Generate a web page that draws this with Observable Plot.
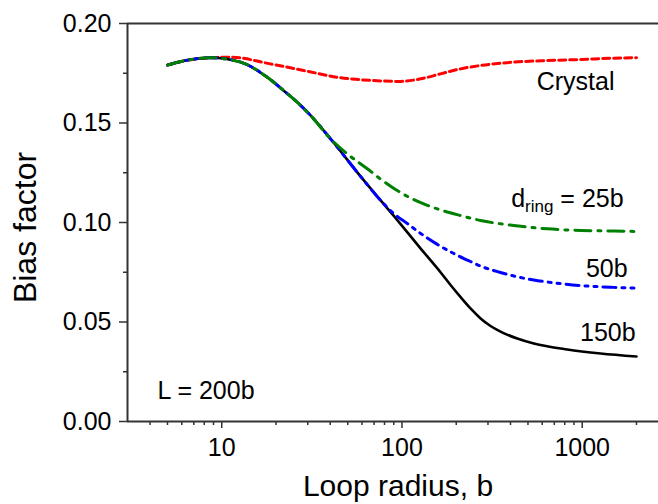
<!DOCTYPE html>
<html><head><meta charset="utf-8">
<script src="https://cdn.jsdelivr.net/npm/d3@7"></script>
<script src="https://cdn.jsdelivr.net/npm/@observablehq/plot@0.6"></script>
<style>body{margin:0;background:#fff;} #chart svg{display:block;}</style>
</head><body><div id="chart"></div>
<script>
// Loop radius (b) and bias factor per series
const crystalX = [5, 6.3, 8.66, 11.2, 18.6, 28.5, 43.7, 66.9, 98.2, 126.9, 163.7, 211, 273, 418, 640, 980, 1499, 2000];
const crystalY = [0.1791, 0.1814, 0.1828, 0.1831, 0.1797, 0.1764, 0.173, 0.1714, 0.1709, 0.1722, 0.1747, 0.1772, 0.1789, 0.1806, 0.1814, 0.1819, 0.1826, 0.1828];

const ring25X = [5, 6.3, 8.66, 12.7, 17.9, 22.1, 26.2, 31.1, 40.1, 49.7, 64.2, 76.1, 92.1, 111.6, 135.1, 163.7, 211, 273, 418, 640, 980, 1499, 2000];
const ring25Y = [0.1791, 0.1814, 0.1828, 0.1806, 0.173, 0.1662, 0.1605, 0.1538, 0.1421, 0.1345, 0.127, 0.1218, 0.1166, 0.1123, 0.109, 0.1063, 0.1035, 0.101, 0.0985, 0.0968, 0.096, 0.0957, 0.0955];

const ring50X = [5, 6.3, 8.66, 12.7, 17.9, 22.1, 26.2, 31.1, 40.1, 58.9, 76.1, 90.1, 107, 126.9, 157.1, 194.1, 240, 273, 352, 418, 539, 640, 980, 1499, 2000];
const ring50Y = [0.1791, 0.1814, 0.1828, 0.1806, 0.173, 0.1662, 0.1605, 0.1538, 0.1421, 0.1232, 0.1111, 0.1045, 0.0995, 0.0945, 0.089, 0.0844, 0.0804, 0.0781, 0.0749, 0.0731, 0.0711, 0.0701, 0.0683, 0.0674, 0.067];

const ring150X = [5, 6.3, 8.66, 12.7, 17.9, 22.1, 26.2, 31.1, 40.1, 58.9, 90.1, 127, 164, 186, 211, 240, 273, 310, 352, 436, 539, 826, 1265, 2000];
const ring150Y = [0.1791, 0.1814, 0.1828, 0.1806, 0.173, 0.1662, 0.1605, 0.1538, 0.1421, 0.1232, 0.1033, 0.0869, 0.0749, 0.0686, 0.0626, 0.0568, 0.0518, 0.048, 0.0452, 0.0417, 0.0392, 0.0362, 0.0342, 0.0327];

const xMajorTicks = [10, 100, 1000];
const xMinorTicks = [4, 5, 6, 7, 8, 9, 20, 30, 40, 50, 60, 70, 80, 90, 200, 300, 400, 500, 600, 700, 800, 900, 2000];
const yMajorTicks = [0, 0.05, 0.10, 0.15, 0.20];
const yMinorTicks = [0.025, 0.075, 0.125, 0.175];

const labelText = ["Crystal", "dring = 25b", "50b", "150b", "L = 200b"];
const labelX = [1510, 1697, 1786, 1978, 4.4];
const labelY = [0.1668, 0.1077, 0.0725, 0.0407, 0.0111];
const labelAnchor = ["end", "end", "end", "end", "start"];

const toRows = (xs, ys) => xs.map((x, i) => ({x, y: ys[i]}));
const labels = labelText.map((t, i) => ({t, x: labelX[i], y: labelY[i], a: labelAnchor[i]}));

const axisColor = "#333";
const font = "'Liberation Sans', Arial, Helvetica, sans-serif";

const chart = Plot.plot({
  width: 658,
  height: 504,
  marginLeft: 127,
  marginRight: 0,
  marginTop: 23,
  marginBottom: 83,
  style: {fontFamily: font, background: "#fff", color: "#000", overflow: "visible"},
  x: {type: "log", domain: [3, 2650]},
  y: {domain: [0, 0.2]},
  marks: [
    Plot.axisX({ticks: xMajorTicks, tickSize: 7, tickPadding: 10, fontSize: 25, tickFormat: d => String(d), label: null, stroke: axisColor, strokeWidth: 1.5}),
    Plot.axisX({ticks: xMinorTicks, tickSize: 4, tickFormat: () => "", label: null, stroke: axisColor, strokeWidth: 1.5}),
    Plot.axisY({ticks: yMajorTicks, tickSize: 8, tickPadding: 8, fontSize: 25, tickFormat: d3.format(".2f"), label: null, stroke: axisColor, strokeWidth: 1.5}),
    Plot.axisY({ticks: yMinorTicks, tickSize: 4, tickFormat: () => "", label: null, stroke: axisColor, strokeWidth: 1.5}),
    Plot.ruleY([0, 0.2], {stroke: axisColor, strokeWidth: 2}),
    Plot.ruleX([3], {stroke: axisColor, strokeWidth: 2}),
    Plot.line(toRows(crystalX, crystalY), {x: "x", y: "y", stroke: "#ff0000", strokeWidth: 3, strokeDasharray: "7,4", curve: "monotone-x"}),
    Plot.line(toRows(ring150X, ring150Y), {x: "x", y: "y", stroke: "#000", strokeWidth: 2.6, curve: "monotone-x"}),
    Plot.line(toRows(ring50X, ring50Y), {x: "x", y: "y", stroke: "#0000ff", strokeWidth: 3, strokeDasharray: "13,6,3,6,3,6", curve: "monotone-x"}),
    Plot.line(toRows(ring25X, ring25Y), {x: "x", y: "y", stroke: "#008000", strokeWidth: 3, strokeDasharray: "16,7,3,7", curve: "monotone-x"}),
    Plot.text(labels.filter(d => d.a === "end"), {x: "x", y: "y", text: "t", textAnchor: "end", lineAnchor: "bottom", fontSize: 25, fill: "#000"}),
    Plot.text(labels.filter(d => d.a === "start"), {x: "x", y: "y", text: "t", textAnchor: "start", lineAnchor: "bottom", fontSize: 25, fill: "#000"}),
    Plot.text(["Loop radius, b"], {frameAnchor: "bottom", textAnchor: "middle", dx: 5, dy: 74, lineAnchor: "bottom", fontSize: 30, fill: "#000"}),
    Plot.text(["Bias factor"], {frameAnchor: "left", textAnchor: "middle", dx: -92, dy: 5, rotate: -90, lineAnchor: "bottom", fontSize: 32, fill: "#000"})
  ]
});

// Subscript for d_ring
d3.select(chart).selectAll("text").each(function() {
  if (this.textContent === "dring = 25b") {
    const t = d3.select(this);
    t.text(null);
    t.append("tspan").text("d");
    t.append("tspan").attr("font-size", "0.68em").attr("dy", "0.3em").text("ring");
    t.append("tspan").attr("dy", "-0.204em").text(" = 25b");
  }
});

document.getElementById("chart").appendChild(chart);
</script>
</body></html>
